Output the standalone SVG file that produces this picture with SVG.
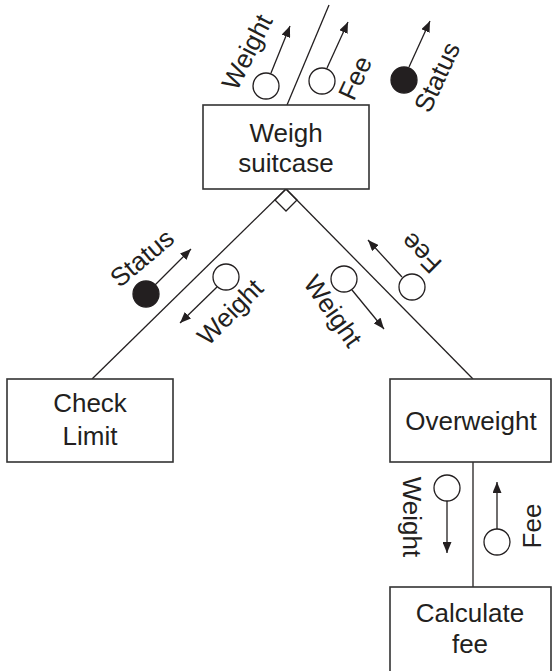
<svg xmlns="http://www.w3.org/2000/svg" width="552" height="671" viewBox="0 0 552 671">
<defs>
<marker id="ah" markerUnits="userSpaceOnUse" markerWidth="12" markerHeight="9" refX="11" refY="4.5" orient="auto">
<path d="M0,0 L11,4.5 L0,9 z" fill="#231f20"/>
</marker>
<style>
.box{fill:#fff;stroke:#333;stroke-width:1.6}
.ln{fill:none;stroke:#231f20;stroke-width:1.3}
.arr{fill:none;stroke:#231f20;stroke-width:1.3;marker-end:url(#ah)}
.dc{fill:#fff;stroke:#231f20;stroke-width:1.3}
.cf{fill:#231f20;stroke:#231f20;stroke-width:1.3}
text{font-family:"Liberation Sans",Arial,sans-serif;fill:#231f20}
.nt{font-size:26px;text-anchor:middle}
.lb{font-size:26px;text-anchor:middle;dominant-baseline:central}
</style>
</defs>
<rect width="552" height="671" fill="#fff"/>
<g id="connectors">
<line class="ln" x1="287" y1="105" x2="329" y2="5"/>
<line class="ln" x1="286" y1="189" x2="92" y2="379"/>
<line class="ln" x1="286" y1="189" x2="473" y2="379"/>
<path class="ln" d="M286,189 L275,200 L286,211 L297,200 Z"/>
<line class="ln" x1="473" y1="462" x2="473" y2="587"/>
</g>
<g id="couples">
<circle class="dc" cx="266" cy="86" r="13"/>
<line class="arr" x1="271" y1="73" x2="290" y2="26"/>
<text class="lb" transform="translate(247,52) rotate(-63)">Weight</text>
<circle class="dc" cx="322" cy="81" r="13"/>
<line class="arr" x1="327" y1="68" x2="348" y2="22"/>
<text class="lb" transform="translate(355,78) rotate(-65)">Fee</text>
<circle class="cf" cx="404" cy="80" r="13"/>
<line class="arr" x1="409" y1="67" x2="430" y2="21"/>
<text class="lb" transform="translate(437,77) rotate(-65)">Status</text>
<circle class="cf" cx="146" cy="294" r="13"/>
<line class="arr" x1="155" y1="285" x2="191" y2="249"/>
<text class="lb" transform="translate(142,258) rotate(-40)">Status</text>
<circle class="dc" cx="226" cy="277" r="13"/>
<line class="arr" x1="217" y1="287" x2="180" y2="323"/>
<text class="lb" transform="translate(230,312) rotate(-45)">Weight</text>
<circle class="dc" cx="344" cy="279" r="13"/>
<line class="arr" x1="352" y1="290" x2="384" y2="329"/>
<text class="lb" transform="translate(333,311) rotate(55)">Weight</text>
<circle class="dc" cx="412" cy="287" r="13"/>
<line class="arr" x1="402" y1="277" x2="368" y2="240"/>
<text class="lb" transform="translate(421,253) rotate(-135)">Fee</text>
<circle class="dc" cx="447" cy="488" r="13"/>
<line class="arr" x1="447" y1="501" x2="447" y2="553"/>
<text class="lb" transform="translate(412,517) rotate(90)">Weight</text>
<circle class="dc" cx="497" cy="542" r="13"/>
<line class="arr" x1="497" y1="529" x2="497" y2="482"/>
<text class="lb" transform="translate(532,526) rotate(-90)">Fee</text>
</g>
<g id="weigh-suitcase">
<rect class="box" x="203" y="105" width="166" height="84"/>
<text class="nt" x="286" y="142">Weigh</text>
<text class="nt" x="286" y="172">suitcase</text>
</g>
<g id="check-limit">
<rect class="box" x="7" y="379" width="166" height="83"/>
<text class="nt" x="90" y="412">Check</text>
<text class="nt" x="90" y="445">Limit</text>
</g>
<g id="overweight">
<rect class="box" x="390" y="379" width="161" height="83"/>
<text class="nt" x="471" y="430">Overweight</text>
</g>
<g id="calculate-fee">
<rect class="box" x="390" y="587" width="161" height="90"/>
<text class="nt" x="470" y="622">Calculate</text>
<text class="nt" x="470" y="653">fee</text>
</g>
</svg>
